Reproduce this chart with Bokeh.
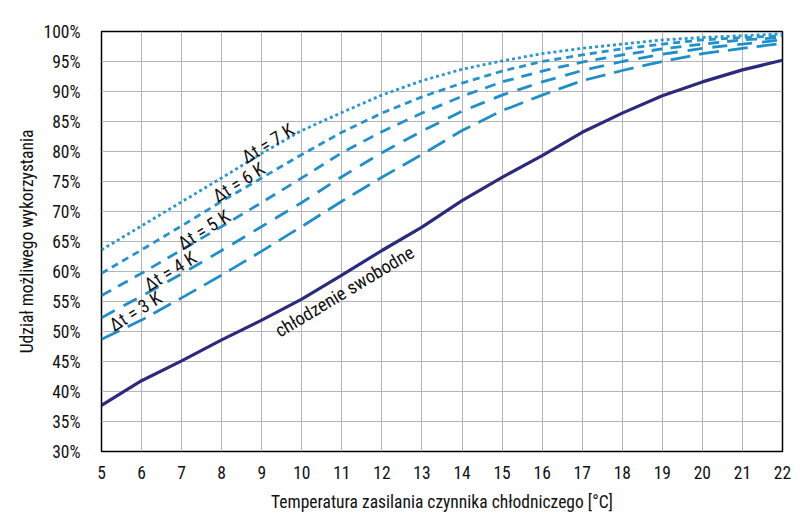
from bokeh.plotting import figure
from bokeh.models import Range1d, FixedTicker, PrintfTickFormatter, ColumnDataSource
from bokeh.core.properties import value
from bokeh.embed import file_html
from bokeh.resources import INLINE
import math

# Supply temperature of the cooling medium [°C]
temps = [5, 6, 7, 8, 9, 10, 11, 12, 13, 14, 15, 16, 17, 18, 19, 20, 21, 22]

# Share of possible utilisation [%] for each temperature difference
dt3 = [48.7, 51.9, 55.6, 59.4, 63.4, 67.5, 71.7, 75.7, 79.5, 83.5, 86.8, 89.4, 91.8, 93.5, 95.0, 96.3, 97.2, 98.0]
dt4 = [52.3, 55.9, 59.6, 63.5, 67.5, 71.5, 75.8, 79.8, 83.4, 86.7, 89.4, 91.6, 93.5, 95.0, 96.2, 97.2, 97.9, 98.6]
dt5 = [56.0, 59.7, 63.6, 67.5, 71.5, 75.6, 79.8, 83.3, 86.4, 89.2, 91.6, 93.4, 94.9, 96.1, 97.1, 97.9, 98.6, 99.0]
dt6 = [59.7, 63.6, 67.6, 71.7, 75.6, 79.5, 83.2, 86.4, 89.1, 91.4, 93.4, 95.0, 96.1, 97.1, 97.9, 98.6, 99.0, 99.3]
dt7 = [63.6, 67.6, 71.6, 75.6, 79.7, 83.5, 86.5, 89.4, 91.8, 93.7, 95.1, 96.3, 97.2, 97.9, 98.6, 99.0, 99.3, 99.6]

# Free cooling curve [%]
free_cooling = [37.7, 41.8, 45.1, 48.6, 51.9, 55.4, 59.4, 63.5, 67.4, 71.8, 75.7, 79.3, 83.2, 86.4, 89.3, 91.6, 93.6, 95.2]

x_ticks = list(range(5, 23))
y_ticks = list(range(30, 101, 5))

series_labels = ["Δt = 3 K", "Δt = 4 K", "Δt = 5 K", "Δt = 6 K", "Δt = 7 K"]
free_label = "chłodzenie swobodne"
x_title = "Temperatura zasilania czynnika chłodniczego [°C]"
y_title = "Udział możliwego wykorzystania"

FONT = "'Liberation Sans Narrow', 'Arial Narrow', 'Roboto Condensed', sans-serif"

p = figure(width=800, height=524, output_backend="svg", toolbar_location=None,
           x_range=Range1d(5, 22), y_range=Range1d(30, 100),
           min_border_left=101, min_border_right=18, min_border_top=31, min_border_bottom=73)
p.background_fill_color = "white"
p.border_fill_color = "white"
p.outline_line_color = "black"
p.outline_line_width = 1.5

p.xaxis.ticker = FixedTicker(ticks=x_ticks)
p.yaxis.ticker = FixedTicker(ticks=y_ticks)
p.yaxis.formatter = PrintfTickFormatter(format="%d%%")
for ax in (p.xaxis, p.yaxis):
    ax.axis_line_color = None
    ax.major_tick_line_color = None
    ax.minor_tick_line_color = None
    ax.major_label_text_font = FONT
    ax.major_label_text_font_size = "17.5px"
    ax.major_label_text_color = "#111111"
    ax.axis_label_text_font = FONT
    ax.axis_label_text_font_size = "17.5px"
    ax.axis_label_text_font_style = "normal"
    ax.axis_label_text_color = "#111111"
p.xaxis.axis_label = x_title
p.yaxis.axis_label = y_title
p.xaxis.major_label_standoff = 8
p.yaxis.major_label_standoff = 15
p.xaxis.axis_label_standoff = 10
p.yaxis.axis_label_standoff = 4

p.grid.grid_line_color = "#b5b5b5"
p.grid.grid_line_width = 1
p.xgrid.ticker = FixedTicker(ticks=x_ticks)
p.ygrid.ticker = FixedTicker(ticks=y_ticks)

src = ColumnDataSource(dict(t=temps, dt3=dt3, dt4=dt4, dt5=dt5, dt6=dt6, dt7=dt7, free=free_cooling))

styles = [
    ("dt3", "#1f8fc9", "20 9"),
    ("dt4", "#1f8fcb", "15 10"),
    ("dt5", "#2290cc", "11 8"),
    ("dt6", "#2593cf", "7 5"),
    ("dt7", "#2a97d2", "3 3"),
]
for col, color, dash in styles:
    p.line("t", col, source=src, line_color=color, line_width=2.8, line_dash=dash)

p.line("t", "free", source=src, line_color="#2b2a7c", line_width=3.2)

# Curve labels, tilted along the curves
ang = math.radians(32)
lab_x = [5.85, 6.72, 7.56, 8.43, 9.16]
lab_y = [53.3, 60.0, 66.9, 74.8, 81.3]
p.text(x=lab_x, y=lab_y, text=series_labels, angle=ang,
       text_align="center", text_baseline="middle",
       text_font=value(FONT), text_font_size="18.5px", text_color="#111111")
p.text(x=[11.07], y=[56.6], text=[free_label], angle=math.radians(31),
       text_align="center", text_baseline="middle",
       text_font=value(FONT), text_font_size="18.5px", text_color="#111111")

open("out.html", "w").write(file_html(p, INLINE))
